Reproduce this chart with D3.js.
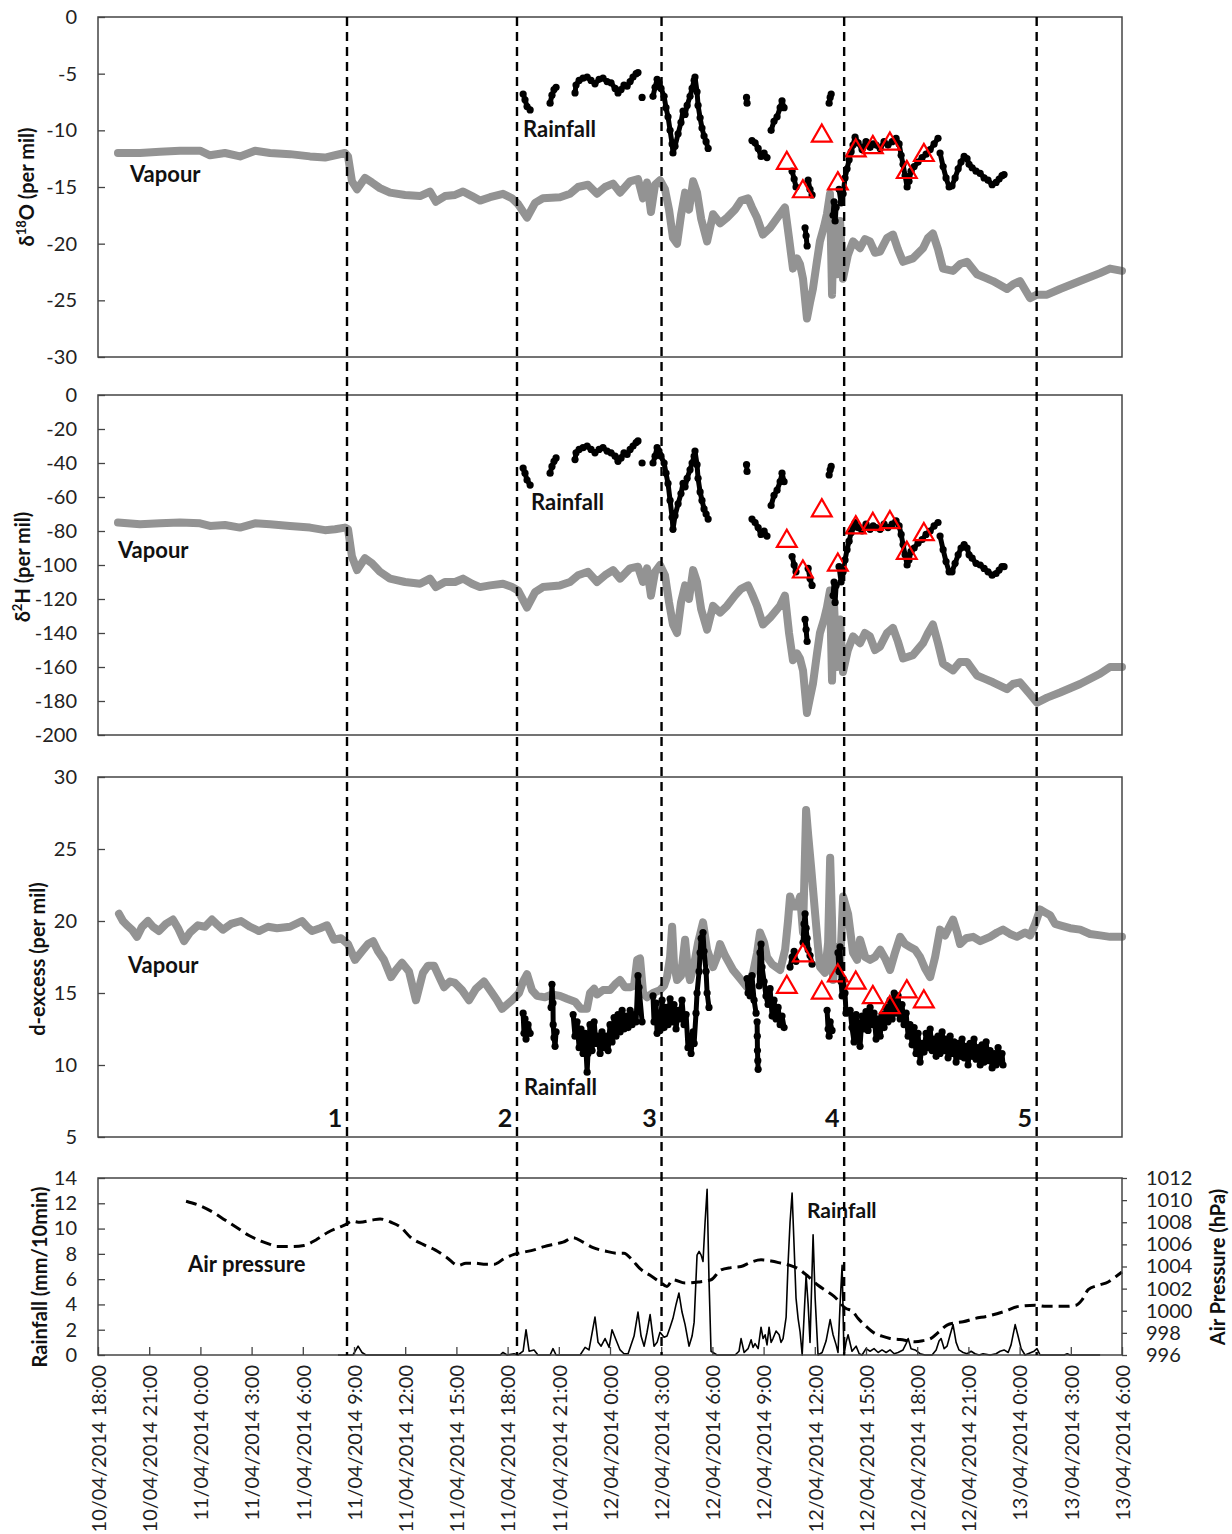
<!DOCTYPE html>
<html><head><meta charset="utf-8">
<script src="https://cdn.jsdelivr.net/npm/d3@7"></script>
<style>body{margin:0;background:#fff} svg{display:block}</style>
</head><body>
<svg id="c" width="1232" height="1534"></svg>
<script>
// ---------------- DATA (time in hours since 10/04/2014 18:00) ----------------
const tickHours = [0,3,6,9,12,15,18,21,24,27,30,33,36,39,42,45,48,51,54,57,60];
const tickLabels = ["10/04/2014 18:00","10/04/2014 21:00","11/04/2014 0:00","11/04/2014 3:00","11/04/2014 6:00",
  "11/04/2014 9:00","11/04/2014 12:00","11/04/2014 15:00","11/04/2014 18:00","11/04/2014 21:00","12/04/2014 0:00",
  "12/04/2014 3:00","12/04/2014 6:00","12/04/2014 9:00","12/04/2014 12:00","12/04/2014 15:00","12/04/2014 18:00",
  "12/04/2014 21:00","13/04/2014 0:00","13/04/2014 3:00","13/04/2014 6:00"];
const eventHours = [14.59, 24.55, 33.02, 43.72, 55.0];
const eventLabels = ["1","2","3","4","5"];

const o18Ticks = [0,-5,-10,-15,-20,-25,-30];
const d2hTicks = [0,-20,-40,-60,-80,-100,-120,-140,-160,-180,-200];
const dexTicks = [30,25,20,15,10,5];
const rainTicks = [0,2,4,6,8,10,12,14];
const presTicks = [996,998,1000,1002,1004,1006,1008,1010,1012];

const vapourO18 = [[1.17,-12.0],[2.46,-12.0],[3.63,-11.9],[4.80,-11.8],[5.98,-11.8],[6.56,-12.2],[7.44,-12.0],[8.32,-12.3],[9.20,-11.8],[10.08,-12.0],[11.25,-12.1],[12.42,-12.3],[13.30,-12.4],[13.89,-12.2],[14.47,-12.0],[14.65,-12.3],[14.88,-14.5],[15.18,-15.2],[15.64,-14.2],[16.05,-14.6],[16.52,-15.1],[17.11,-15.5],[17.99,-15.7],[18.87,-15.8],[19.45,-15.4],[19.80,-16.3],[20.33,-15.8],[20.92,-15.7],[21.39,-15.4],[21.91,-15.8],[22.38,-16.2],[22.97,-15.9],[23.73,-15.6],[24.26,-16.0],[24.61,-16.5],[25.14,-17.7],[25.61,-16.4],[26.07,-16.0],[27.07,-15.9],[27.66,-15.6],[28.13,-15.0],[28.71,-14.8],[29.24,-15.6],[29.71,-15.0],[30.18,-14.7],[30.59,-15.5],[31.17,-14.5],[31.64,-14.3],[31.93,-16.0],[32.17,-14.6],[32.40,-17.2],[32.64,-14.8],[32.93,-14.4],[33.22,-15.2],[33.46,-17.0],[33.69,-19.5],[33.93,-20.0],[34.16,-17.5],[34.40,-15.5],[34.63,-17.0],[34.87,-14.5],[35.10,-15.5],[35.34,-17.8],[35.69,-19.8],[36.04,-17.4],[36.45,-18.2],[36.86,-17.7],[37.32,-17.0],[37.68,-16.2],[38.09,-16.0],[38.32,-16.8],[38.61,-17.7],[38.96,-19.2],[39.38,-18.6],[39.96,-17.4],[40.25,-16.8],[40.49,-19.5],[40.72,-22.2],[40.96,-21.3],[41.13,-21.8],[41.31,-23.1],[41.54,-26.6],[41.72,-25.2],[41.89,-24.0],[42.13,-21.5],[42.30,-19.8],[42.54,-18.5],[42.71,-17.4],[42.89,-15.6],[43.01,-24.5],[43.12,-17.0],[43.30,-22.7],[43.48,-18.0],[43.65,-23.1],[43.94,-21.0],[44.24,-19.8],[44.65,-20.4],[44.94,-19.6],[45.23,-19.8],[45.53,-20.8],[45.82,-20.7],[46.23,-19.5],[46.58,-19.2],[46.87,-20.5],[47.17,-21.6],[47.75,-21.3],[48.34,-20.4],[48.63,-19.5],[48.92,-19.1],[49.22,-20.5],[49.51,-22.2],[50.10,-22.4],[50.51,-21.8],[50.92,-21.6],[51.50,-22.7],[51.97,-23.0],[52.44,-23.3],[53.26,-24.0],[53.61,-23.6],[54.02,-23.3],[54.61,-24.8],[55.02,-24.5],[55.61,-24.5],[56.37,-24.0],[57.54,-23.3],[58.71,-22.6],[59.30,-22.2],[60.00,-22.4]];

const vapourD2H = [[1.17,-75],[2.46,-76],[3.63,-75.5],[4.80,-75],[5.98,-75.5],[6.56,-77],[7.44,-76.5],[8.32,-78],[9.20,-75.5],[10.08,-76],[11.25,-77],[12.42,-78],[13.30,-79.5],[13.89,-79],[14.47,-78],[14.65,-79],[14.88,-95],[15.18,-103],[15.64,-96],[16.05,-99],[16.52,-104],[17.11,-108],[17.99,-110],[18.87,-111],[19.45,-108],[19.80,-113],[20.33,-110],[20.92,-110],[21.39,-108],[21.91,-111],[22.38,-113],[22.97,-112],[23.73,-111],[24.26,-113],[24.61,-115],[25.14,-125],[25.61,-116],[26.07,-113],[27.07,-112],[27.66,-110],[28.13,-106],[28.71,-104],[29.24,-110],[29.71,-106],[30.18,-103],[30.59,-108],[31.17,-102],[31.64,-101],[31.93,-110],[32.17,-102],[32.40,-118],[32.64,-104],[32.93,-100],[33.22,-106],[33.46,-122],[33.69,-135],[33.93,-140],[34.16,-122],[34.40,-112],[34.63,-120],[34.87,-103],[35.10,-110],[35.34,-126],[35.69,-138],[36.04,-124],[36.45,-128],[36.86,-124],[37.32,-118],[37.68,-114],[38.09,-112],[38.32,-117],[38.61,-124],[38.96,-135],[39.38,-131],[39.96,-124],[40.25,-118],[40.49,-140],[40.72,-156],[40.96,-152],[41.13,-155],[41.31,-162],[41.54,-187],[41.72,-178],[41.89,-170],[42.13,-152],[42.30,-140],[42.54,-132],[42.71,-125],[42.89,-115],[43.01,-168],[43.12,-122],[43.30,-160],[43.48,-132],[43.65,-163],[43.94,-150],[44.24,-142],[44.65,-146],[44.94,-140],[45.23,-142],[45.53,-150],[45.82,-148],[46.23,-140],[46.58,-137],[46.87,-145],[47.17,-155],[47.75,-153],[48.34,-146],[48.63,-140],[48.92,-135],[49.22,-146],[49.51,-158],[50.10,-162],[50.51,-157],[50.92,-157],[51.50,-165],[51.97,-167],[52.44,-169],[53.26,-173],[53.61,-170],[54.02,-169],[54.61,-176],[55.02,-181],[55.61,-178],[56.37,-175],[57.54,-170],[58.71,-164],[59.30,-160],[60.00,-160]];

const vapourDex = [[1.23,20.5],[1.46,20.0],[1.70,19.7],[1.99,19.4],[2.29,18.9],[2.58,19.6],[2.93,20.0],[3.22,19.6],[3.57,19.3],[3.98,19.8],[4.39,20.1],[4.69,19.5],[5.04,18.6],[5.39,19.2],[5.86,19.7],[6.27,19.6],[6.68,20.1],[7.03,19.7],[7.32,19.4],[7.79,19.8],[8.38,20.0],[8.91,19.6],[9.43,19.3],[9.96,19.6],[10.49,19.5],[11.25,19.6],[11.95,20.0],[12.25,19.6],[12.54,19.3],[13.01,19.5],[13.42,19.7],[13.83,18.7],[14.24,18.8],[14.65,18.4],[15.06,17.3],[15.47,17.9],[15.82,18.4],[16.12,18.6],[16.41,17.9],[16.76,17.3],[17.17,16.1],[17.46,16.6],[17.81,17.1],[18.22,16.5],[18.63,14.5],[19.04,16.4],[19.34,16.9],[19.69,16.9],[20.04,16.0],[20.28,15.4],[20.63,15.8],[20.92,15.7],[21.33,15.2],[21.74,14.5],[22.15,15.3],[22.62,15.8],[23.03,15.1],[23.38,14.5],[23.67,13.9],[23.97,14.2],[24.26,14.5],[24.67,15.0],[24.91,15.8],[25.14,16.3],[25.43,15.2],[25.73,14.8],[26.19,14.7],[26.60,14.9],[27.07,14.8],[27.48,14.6],[27.95,14.4],[28.30,13.9],[28.65,13.9],[28.83,15.0],[29.07,15.3],[29.24,14.9],[29.59,15.2],[30.00,15.2],[30.30,15.6],[30.59,15.9],[30.88,15.4],[31.18,15.4],[31.41,15.5],[31.59,17.3],[31.76,17.4],[31.94,15.0],[32.17,14.7],[32.52,15.0],[32.93,15.2],[33.17,15.5],[33.34,16.1],[33.52,17.5],[33.64,19.6],[33.75,17.0],[33.93,15.9],[34.16,16.2],[34.40,18.7],[34.57,16.5],[34.69,15.9],[34.93,17.0],[35.16,18.5],[35.45,19.9],[35.69,18.0],[36.04,16.8],[36.27,17.5],[36.45,18.4],[36.74,17.6],[37.21,16.6],[37.62,16.0],[38.03,15.4],[38.38,16.4],[38.62,17.8],[38.79,19.2],[39.03,18.5],[39.20,17.5],[39.50,17.0],[39.97,16.6],[40.26,18.0],[40.43,20.0],[40.55,21.7],[40.73,21.0],[40.96,21.0],[41.14,21.7],[41.31,19.2],[41.49,27.7],[41.61,26.0],[41.78,23.8],[42.02,20.5],[42.19,18.2],[42.31,16.8],[42.60,16.4],[42.78,18.5],[42.90,24.4],[43.01,20.1],[43.07,15.9],[43.31,18.2],[43.48,16.8],[43.66,21.7],[43.95,20.5],[44.24,17.8],[44.48,17.3],[44.65,18.7],[44.95,17.5],[45.24,17.3],[45.53,17.5],[45.83,18.0],[46.12,17.4],[46.41,16.6],[46.70,17.8],[47.00,18.9],[47.29,18.4],[47.58,18.2],[47.88,18.0],[48.17,17.5],[48.46,16.7],[48.76,16.1],[49.05,17.5],[49.34,19.4],[49.63,19.0],[50.10,20.1],[50.34,19.2],[50.51,18.4],[50.86,18.8],[51.28,18.9],[51.69,18.6],[52.27,18.9],[52.68,19.2],[53.03,19.4],[53.44,19.1],[53.85,18.9],[54.32,19.2],[54.62,19.0],[54.91,19.8],[55.20,20.8],[55.49,20.6],[55.79,20.4],[56.08,19.8],[56.37,19.7],[56.96,19.5],[57.55,19.4],[58.13,19.1],[58.72,19.0],[59.30,18.9],[60.00,18.9]];

const rainO18 = [[24.91,-6.8],[25.02,-7.3],[25.14,-7.9],[25.32,-8.2],null,
[26.49,-7.6],[26.60,-6.9],[26.72,-6.4],[26.84,-6.2],null,
[27.95,-6.7],[28.01,-6.0],[28.19,-5.6],[28.42,-5.4],[28.66,-5.3],[28.89,-5.6],[29.12,-5.9],[29.36,-5.5],[29.59,-5.4],[29.83,-5.7],[30.06,-5.8],[30.30,-6.3],[30.47,-6.7],[30.65,-6.4],[30.82,-6.0],[31.00,-6.1],[31.18,-5.7],[31.35,-5.3],[31.53,-5.0],[31.64,-4.9],null,[31.88,-7.1],null,
[32.52,-7.0],[32.64,-6.2],[32.76,-5.5],[32.87,-5.8],[32.99,-6.3],[33.17,-7.0],[33.28,-8.0],[33.40,-8.8],[33.52,-10.0],[33.64,-11.2],[33.69,-12.0],[33.81,-11.4],[33.99,-10.3],[34.16,-9.3],[34.28,-8.3],[34.40,-8.6],[34.52,-7.8],[34.69,-7.0],[34.81,-6.3],[34.93,-5.6],[34.98,-5.3],[35.10,-6.6],[35.16,-7.8],[35.28,-8.9],[35.39,-9.8],[35.51,-10.5],[35.63,-11.0],[35.75,-11.6],null,
[38.00,-7.1],[38.03,-7.6],null,
[38.32,-10.9],[38.50,-11.1],[38.68,-11.6],[38.85,-12.3],[39.03,-12.0],[39.20,-12.4],null,
[39.44,-10.0],[39.61,-9.2],[39.79,-8.8],[39.97,-8.0],[40.08,-7.4],[40.20,-8.0],null,
[40.67,-13.6],[40.79,-14.3],[40.90,-15.0],null,
[41.43,-18.6],[41.49,-19.3],[41.55,-20.2],null,
[41.61,-14.4],[41.72,-15.2],[41.84,-15.7],null,
[42.84,-7.6],[42.90,-7.1],[42.96,-6.8],null,
[43.07,-17.5],[43.13,-16.3],[43.19,-18.0],[43.25,-16.8],null,
[43.42,-15.2],[43.54,-16.4],[43.66,-15.6],[43.77,-14.2],[43.89,-13.4],[44.01,-12.6],[44.13,-11.9],[44.24,-11.3],[44.36,-10.6],[44.54,-11.1],[44.77,-11.7],[45.00,-11.0],[45.24,-11.5],[45.42,-11.2],[45.59,-11.3],[45.83,-11.6],[46.06,-11.0],[46.29,-11.3],[46.53,-11.0],[46.76,-10.7],[46.94,-11.2],[47.06,-12.2],[47.17,-13.0],[47.29,-14.0],[47.41,-15.0],[47.52,-14.5],[47.64,-13.6],[47.82,-13.2],[48.05,-12.8],[48.29,-12.4],[48.52,-12.1],[48.76,-11.7],[48.99,-11.2],[49.22,-10.7],null,
[49.34,-12.0],[49.52,-13.2],[49.69,-14.2],[49.87,-15.0],[50.04,-14.9],[50.22,-14.2],[50.40,-13.4],[50.57,-12.8],[50.75,-12.3],[50.92,-12.5],[51.04,-13.0],[51.22,-13.3],[51.45,-13.6],[51.69,-13.8],[51.92,-14.2],[52.15,-14.4],[52.39,-14.8],[52.62,-14.6],[52.80,-14.3],[52.97,-14.0],[53.09,-13.9]];

const rainD2H = [[24.91,-43],[25.02,-46],[25.14,-50],[25.32,-53],null,
[26.49,-46],[26.60,-42],[26.72,-39],[26.84,-37],null,
[27.95,-38],[28.01,-34],[28.19,-32],[28.42,-31],[28.66,-30],[28.89,-32],[29.12,-34],[29.36,-32],[29.59,-31],[29.83,-33],[30.06,-34],[30.30,-36],[30.47,-39],[30.65,-37],[30.82,-34],[31.00,-35],[31.18,-32],[31.35,-30],[31.53,-28],[31.64,-27],null,[31.88,-40],null,
[32.52,-40],[32.64,-36],[32.76,-31],[32.87,-33],[32.99,-36],[33.17,-40],[33.28,-46],[33.40,-52],[33.52,-62],[33.64,-72],[33.69,-79],[33.81,-71],[33.99,-64],[34.16,-58],[34.28,-52],[34.40,-54],[34.52,-49],[34.69,-44],[34.81,-40],[34.93,-36],[34.98,-33],[35.10,-41],[35.16,-49],[35.28,-57],[35.39,-62],[35.51,-67],[35.63,-70],[35.75,-73],null,
[38.00,-41],[38.03,-45],null,
[38.32,-73],[38.50,-75],[38.68,-78],[38.85,-82],[39.03,-80],[39.20,-83],null,
[39.44,-65],[39.61,-59],[39.79,-56],[39.97,-51],[40.08,-46],[40.20,-51],null,
[40.67,-95],[40.79,-100],[40.90,-104],null,
[41.43,-132],[41.49,-138],[41.55,-145],null,
[41.61,-102],[41.72,-108],[41.84,-112],null,
[42.84,-47],[42.90,-44],[42.96,-42],null,
[43.07,-118],[43.13,-110],[43.19,-122],[43.25,-112],null,
[43.42,-101],[43.54,-110],[43.66,-104],[43.77,-97],[43.89,-91],[44.01,-86],[44.13,-81],[44.24,-78],[44.36,-75],[44.54,-78],[44.77,-80],[45.00,-76],[45.24,-79],[45.42,-77],[45.59,-78],[45.83,-79],[46.06,-76],[46.29,-78],[46.53,-76],[46.76,-74],[46.94,-77],[47.06,-82],[47.17,-88],[47.29,-94],[47.41,-100],[47.52,-97],[47.64,-92],[47.82,-90],[48.05,-87],[48.29,-85],[48.52,-82],[48.76,-80],[48.99,-77],[49.22,-75],null,
[49.34,-83],[49.52,-91],[49.69,-98],[49.87,-104],[50.04,-104],[50.22,-99],[50.40,-94],[50.57,-90],[50.75,-88],[50.92,-90],[51.04,-94],[51.22,-96],[51.45,-99],[51.69,-100],[51.92,-102],[52.15,-104],[52.39,-106],[52.62,-105],[52.80,-103],[52.97,-101],[53.09,-101]];

const rainDex = [[24.91,13.6],[24.96,12.2],[25.02,13.2],[25.08,11.8],[25.20,12.8],[25.32,12.2],null,
[26.55,14.0],[26.60,15.6],[26.66,14.3],[26.67,12.8],[26.72,11.9],[26.78,11.3],[26.84,12.3],null,
[27.84,13.5],[27.95,12.0],[28.07,13.0],[28.19,11.2],[28.30,12.5],[28.42,10.8],[28.54,12.2],[28.66,9.5],[28.71,10.8],[28.83,12.8],[28.95,11.0],[29.07,13.0],[29.18,11.5],[29.30,12.0],[29.42,10.8],[29.53,12.3],[29.65,11.2],[29.77,12.0],[29.89,11.0],[30.00,12.8],[30.12,11.6],[30.24,13.3],[30.35,12.0],[30.47,13.5],[30.59,12.3],[30.71,13.8],[30.82,12.5],[30.94,13.4],[31.06,12.6],[31.18,13.8],[31.29,12.8],[31.41,13.5],[31.53,13.0],[31.64,16.2],[31.70,15.4],[31.88,13.0],null,
[32.52,14.8],[32.58,13.0],[32.70,14.3],[32.76,12.2],[32.87,13.6],[32.93,12.4],[33.05,14.5],[33.17,12.6],[33.28,14.0],[33.40,12.8],[33.52,14.6],[33.64,13.0],[33.75,14.2],[33.87,12.5],[33.99,13.8],[34.11,13.2],[34.22,14.5],[34.34,12.8],[34.46,13.5],[34.57,11.2],[34.69,12.0],[34.75,10.8],[34.87,12.3],[34.93,11.5],[35.04,13.6],[35.10,15.0],[35.22,16.5],[35.28,17.8],[35.34,18.8],[35.45,19.2],[35.51,17.9],[35.63,16.5],[35.69,15.0],[35.80,14.0],null,
[38.03,16.0],[38.09,15.0],[38.21,14.8],[38.32,16.2],[38.44,14.5],[38.56,13.6],null,
[38.62,13.0],[38.63,12.0],[38.64,11.0],[38.66,10.3],[38.68,9.7],null,
[38.74,15.5],[38.79,17.8],[38.85,18.4],[38.91,16.8],[39.03,15.8],[39.14,14.8],[39.26,14.2],[39.38,15.3],[39.50,13.4],[39.61,14.5],[39.73,13.2],[39.85,14.0],[39.97,12.8],[40.08,13.4],[40.20,12.6],null,
[40.55,16.8],[40.67,17.5],[40.79,17.9],[40.90,17.2],null,
[41.31,18.5],[41.37,19.8],[41.43,20.5],[41.49,19.5],[41.55,18.8],[41.61,18.0],[41.72,17.6],[41.84,17.0],null,
[42.72,13.8],[42.78,12.5],[42.84,12.0],[42.90,13.0],[43.01,12.4],null,
[43.36,17.8],[43.42,16.5],[43.48,18.2],[43.54,15.8],[43.60,14.8],[43.66,16.0],[43.77,15.0],[43.83,13.6],
[44.07,13.8],[44.18,12.6],[44.30,11.6],[44.42,13.5],[44.54,12.2],[44.65,11.3],[44.77,13.4],[44.89,12.5],[45.00,13.7],[45.12,12.4],[45.24,14.0],[45.36,12.8],[45.47,13.6],[45.59,11.8],[45.71,13.2],[45.83,12.0],[45.94,13.5],[46.06,12.6],[46.18,14.0],[46.29,13.0],[46.41,14.5],[46.53,13.2],[46.65,15.0],[46.76,13.6],[46.88,14.8],[47.00,13.2],[47.11,14.2],[47.23,12.8],[47.35,13.6],[47.47,12.0],[47.58,12.8],[47.70,11.4],[47.82,12.6],[47.93,10.8],[48.05,12.2],[48.17,10.2],[48.29,11.5],[48.40,10.9],[48.52,12.2],[48.64,11.2],[48.76,12.5],[48.87,11.0],[48.99,11.8],[49.11,10.6],[49.22,12.0],[49.34,10.8],[49.46,12.3],[49.58,11.0],[49.69,11.8],[49.81,10.5],[49.93,12.0],[50.04,10.8],[50.16,11.6],[50.28,10.2],[50.40,11.5],[50.51,10.6],[50.63,11.8],[50.75,10.5],[50.87,11.3],[50.98,10.0],[51.10,11.5],[51.22,10.6],[51.33,11.8],[51.45,10.4],[51.57,11.2],[51.69,10.0],[51.80,11.4],[51.92,10.2],[52.04,11.6],[52.15,10.3],[52.27,11.0],[52.39,9.8],[52.51,10.8],[52.62,10.0],[52.74,11.2],[52.86,10.2],[52.97,10.8],[53.03,10.0]];

const sampleHours = [40.36, 41.30, 42.41, 43.35, 44.40, 45.40, 46.40, 47.39, 48.39];
const sampleO18 = [-12.9, -15.4, -10.5, -14.7, -11.8, -11.5, -11.2, -13.7, -12.2];
const sampleD2H = [-86, -104, -68, -100, -78, -76, -75, -93, -82];
const sampleDex = [15.4, 17.6, 15.0, 16.2, 15.7, 14.7, 14.0, 15.1, 14.4];

const rainfall = [[14.06,0],[14.94,0],[15.24,0.7],[15.47,0.2],[15.70,0],[23.56,0],[23.73,0.2],[23.97,0],[24.38,0.1],[24.61,0],[24.91,0.3],[25.08,2.0],[25.26,0.3],[25.55,0.4],[25.78,0],[26.49,0],[26.66,0.5],[26.84,0],[28.25,0],[28.54,0.6],[28.77,0.4],[29.12,3.0],[29.30,1.0],[29.48,0.7],[29.71,1.3],[29.95,0.6],[30.12,2.0],[30.35,1.2],[30.59,0.4],[30.82,0.1],[31.06,0.1],[31.41,1.5],[31.64,3.4],[31.82,1.5],[32.00,0.7],[32.17,1.8],[32.35,3.2],[32.58,0.7],[32.76,1.0],[32.93,1.8],[33.17,1.4],[33.34,1.5],[33.52,2.2],[33.69,2.9],[33.87,4.0],[34.04,4.9],[34.22,3.4],[34.40,2.4],[34.63,0.7],[34.81,1.5],[34.93,2.6],[35.10,7.9],[35.22,8.2],[35.34,7.9],[35.45,7.4],[35.57,10.5],[35.69,13.1],[35.80,6.0],[35.92,0.3],[36.27,0],[37.33,0],[37.56,0.3],[37.68,1.3],[37.86,0.2],[38.09,0.5],[38.27,1.2],[38.38,0.6],[38.50,0.9],[38.68,0.5],[38.85,2.2],[38.97,1.3],[39.09,1.6],[39.20,0.8],[39.32,2.2],[39.44,1.0],[39.55,1.3],[39.73,1.9],[39.91,1.6],[40.02,1.0],[40.14,1.3],[40.32,3.0],[40.43,7.1],[40.55,10.5],[40.67,12.8],[40.79,8.5],[40.90,4.5],[41.02,2.9],[41.14,1.8],[41.26,0],[41.37,3.0],[41.49,6.3],[41.61,4.0],[41.72,1.0],[41.90,9.5],[42.02,4.5],[42.19,0],[42.43,0.2],[42.66,1.1],[42.90,2.8],[43.07,1.6],[43.25,0.8],[43.36,0.2],[43.48,4.0],[43.60,7.1],[43.71,0],[43.83,1.0],[43.95,1.6],[44.18,0.3],[44.42,0.7],[44.60,0.1],[44.77,0],[45.00,0.5],[45.24,0.3],[45.47,0.5],[45.71,0.2],[45.94,0.4],[46.18,0.2],[46.41,0.4],[46.65,0.1],[46.88,0.2],[47.17,0.4],[47.35,0.9],[47.47,1.3],[47.64,0.5],[47.88,0.4],[48.17,0.1],[48.46,0],[48.87,0],[49.11,0.4],[49.28,1.1],[49.40,1.3],[49.58,0.5],[49.75,0.7],[49.93,1.6],[50.10,2.4],[50.28,1.0],[50.45,0.4],[50.69,0.2],[50.92,0.1],[51.16,0.3],[51.39,0.1],[51.63,0],[51.86,0.1],[52.27,0],[52.62,0.1],[52.86,0.3],[53.09,0.4],[53.33,0.2],[53.50,0.8],[53.74,2.4],[53.91,1.5],[54.09,0.5],[54.32,0],[54.85,0.3],[55.02,0.5],[55.20,0],[56.61,0],[56.79,0.1],[56.96,0],[58.72,0]];

const airPressure = [[5.16,1009.9],[5.98,1009.5],[6.74,1008.9],[7.44,1008.2],[8.15,1007.5],[8.85,1006.8],[9.55,1006.3],[10.08,1006.0],[10.49,1005.8],[11.25,1005.8],[12.07,1005.9],[12.77,1006.4],[13.48,1007.1],[14.06,1007.5],[14.53,1007.8],[14.88,1008.1],[15.35,1008.0],[16.06,1008.2],[16.53,1008.3],[17.17,1008.0],[17.70,1007.6],[18.34,1006.6],[19.05,1006.0],[19.75,1005.5],[20.45,1004.8],[21.10,1004.1],[21.56,1004.3],[22.03,1004.3],[22.74,1004.2],[23.21,1004.2],[23.79,1004.7],[24.38,1005.1],[24.96,1005.3],[25.55,1005.5],[26.14,1005.8],[26.66,1006.0],[27.25,1006.2],[27.84,1006.6],[28.42,1006.2],[29.01,1005.7],[29.71,1005.4],[30.41,1005.2],[30.82,1005.2],[31.29,1004.6],[31.76,1003.8],[32.35,1003.2],[32.93,1002.6],[33.34,1002.2],[33.69,1002.8],[34.40,1002.5],[35.16,1002.6],[35.92,1002.8],[36.51,1003.7],[37.09,1003.9],[37.68,1004.0],[38.27,1004.4],[38.85,1004.6],[39.44,1004.5],[40.02,1004.3],[40.55,1004.1],[41.02,1003.8],[41.61,1003.1],[42.19,1002.3],[42.66,1001.8],[43.13,1001.3],[43.83,1000.2],[44.18,1000.0],[44.54,999.3],[45.00,998.6],[45.47,998.0],[45.94,997.7],[46.41,997.5],[47.00,997.4],[47.88,997.2],[48.34,997.3],[48.81,997.5],[49.28,998.1],[49.75,998.7],[50.22,998.9],[50.69,999.0],[51.39,999.3],[52.09,999.5],[53.03,999.9],[53.97,1000.4],[54.91,1000.5],[55.55,1000.4],[56.14,1000.4],[56.73,1000.4],[57.31,1000.5],[57.67,1001.0],[58.02,1001.9],[58.60,1002.3],[59.19,1002.6],[59.65,1003.1],[60.00,1003.5]];

// ---------------- DRAWING ----------------
const FONT = "Lato, 'Open Sans', sans-serif";
const GRAY = "#939393";
const svg = d3.select("#c").style("font-family", FONT);
const X = d3.scaleLinear().domain([0, 60]).range([98, 1122]);
const left = 98, right = 1122;

const yO = d3.scaleLinear().domain([-30, 0]).range([357, 17]);
const yH = d3.scaleLinear().domain([-200, 0]).range([735, 395]);
const yD = d3.scaleLinear().domain([5, 30]).range([1137, 777]);
const yR = d3.scaleLinear().domain([0, 14]).range([1355, 1178]);
const yP = d3.scaleLinear().domain([996, 1012]).range([1355, 1178]);

const plainNum = d => String(d);   // hyphen-minus, as in the original

function styleAxis(g) {
  g.select(".domain").remove();
  g.selectAll(".tick line").attr("stroke", "#444").attr("stroke-width", 1.3);
  g.selectAll(".tick text").attr("fill", "#222").style("font-size", "20px").style("font-family", FONT);
}

function frame(y) {
  const r = y.range();
  svg.append("rect").attr("x", left).attr("y", r[1]).attr("width", right - left).attr("height", r[0] - r[1])
    .attr("fill", "none").attr("stroke", "#444").attr("stroke-width", 1.5);
}

function leftAxis(y, ticks) {
  svg.append("g").attr("transform", `translate(${left},0)`)
    .call(d3.axisLeft(y).tickValues(ticks).tickSize(-7).tickPadding(21).tickFormat(plainNum))
    .call(styleAxis);
}

const lineGen = y => d3.line().defined(d => d != null).x(d => X(d[0])).y(d => y(d[1]));

function vapour(data, y) {
  svg.append("path").datum(data).attr("d", lineGen(y)).attr("fill", "none")
    .attr("stroke", GRAY).attr("stroke-width", 8).attr("stroke-linejoin", "round").attr("stroke-linecap", "round");
}
function rainDots(data, y) {
  svg.append("path").datum(data).attr("d", lineGen(y)).attr("fill", "none")
    .attr("stroke", "#000").attr("stroke-width", 5).attr("stroke-linejoin", "round").attr("stroke-linecap", "round");
  svg.append("g").selectAll("circle").data(data.filter(d => d != null)).join("circle")
    .attr("cx", d => X(d[0])).attr("cy", d => y(d[1])).attr("r", 3.6).attr("fill", "#000");
}
function triangles(vals, y) {
  const sym = d3.symbol(d3.symbolTriangle, 170);
  svg.append("g").selectAll("path").data(sampleHours.map((h, i) => [h, vals[i]])).join("path")
    .attr("d", sym).attr("transform", d => `translate(${X(d[0])},${y(d[1])})`)
    .attr("fill", "none").attr("stroke", "#ff0000").attr("stroke-width", 2.2);
}
function label(txt, x, y, size) {
  svg.append("text").attr("x", x).attr("y", y).attr("font-weight", "bold").attr("fill", "#111")
    .style("font-size", size + "px").text(txt);
}
function yTitle(x, y, parts) {
  const t = svg.append("text").attr("transform", `translate(${x},${y}) rotate(-90)`)
    .attr("text-anchor", "middle").attr("font-weight", "bold").attr("fill", "#111").style("font-size", "20px");
  parts.forEach(p => {
    const s = t.append("tspan").text(p.t);
    if (p.sup) s.attr("dy", -8).style("font-size", "13px");
    if (p.after) s.attr("dy", 8);
  });
}

// Panel 1
vapour(vapourO18, yO);
rainDots(rainO18, yO);
triangles(sampleO18, yO);
frame(yO); leftAxis(yO, o18Ticks);
label("Vapour", 130, 182, 22);
label("Rainfall", 523, 137, 22);
yTitle(34, 187, [{t:"δ"},{t:"18",sup:true},{t:"O (per mil)",after:true}]);

// Panel 2
vapour(vapourD2H, yH);
rainDots(rainD2H, yH);
triangles(sampleD2H, yH);
frame(yH); leftAxis(yH, d2hTicks);
label("Vapour", 118, 558, 22);
label("Rainfall", 531, 510, 22);
yTitle(30, 567, [{t:"δ"},{t:"2",sup:true},{t:"H (per mil)",after:true}]);

// Panel 3
vapour(vapourDex, yD);
rainDots(rainDex, yD);
triangles(sampleDex, yD);
frame(yD); leftAxis(yD, dexTicks);
label("Vapour", 128, 973, 22);
label("Rainfall", 524, 1095, 22);
yTitle(45, 959, [{t:"d-excess (per mil)"}]);

// Panel 4
svg.append("path").datum(rainfall).attr("d", lineGen(yR)).attr("fill", "none")
  .attr("stroke", "#000").attr("stroke-width", 1.6).attr("stroke-linejoin", "round");
svg.append("path").datum(airPressure).attr("d", lineGen(yP).curve(d3.curveMonotoneX)).attr("fill", "none")
  .attr("stroke", "#000").attr("stroke-width", 3).attr("stroke-dasharray", "11,6");
frame(yR); leftAxis(yR, rainTicks);
svg.append("g").attr("transform", `translate(${right},0)`)
  .call(d3.axisRight(yP).tickValues(presTicks).tickSize(5).tickPadding(19).tickFormat(plainNum))
  .call(styleAxis);
const xAx = svg.append("g").attr("transform", `translate(0,${yR(0)})`)
  .call(d3.axisBottom(X).tickValues(tickHours).tickSize(-8).tickFormat((d, i) => tickLabels[i]))
  .call(styleAxis);
xAx.selectAll(".tick text").attr("transform", "rotate(-90)").attr("x", -10).attr("y", 0)
  .attr("dy", "0.36em").style("text-anchor", "end");
label("Air pressure", 188, 1272, 22);
label("Rainfall", 807, 1218, 21);
yTitle(47, 1277, [{t:"Rainfall (mm/10min)"}]);
yTitle(1225, 1267, [{t:"Air Pressure (hPa)"}]);

// Event lines
svg.append("g").selectAll("line").data(eventHours).join("line")
  .attr("x1", d => X(d)).attr("x2", d => X(d)).attr("y1", yO(0)).attr("y2", yR(0))
  .attr("stroke", "#000").attr("stroke-width", 2.4).attr("stroke-dasharray", "9,6");
svg.append("g").selectAll("text").data(eventHours).join("text")
  .attr("x", d => X(d) - 12).attr("y", 1127).attr("text-anchor", "middle")
  .attr("font-weight", "bold").attr("fill", "#111").style("font-size", "25px")
  .text((d, i) => eventLabels[i]);
</script>
</body></html>
